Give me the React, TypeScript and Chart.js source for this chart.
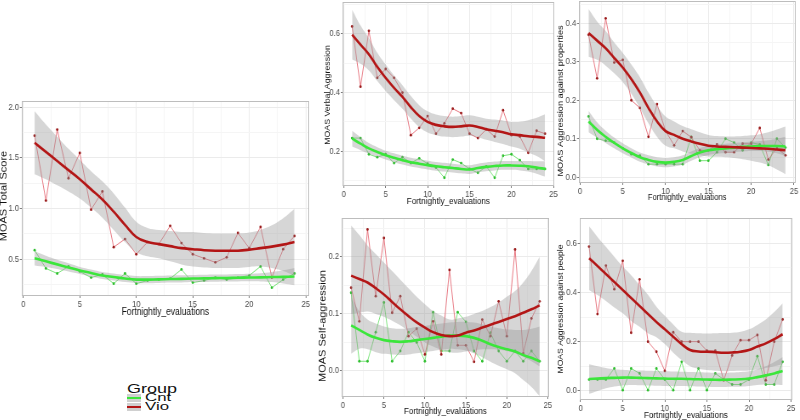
import React, { useEffect, useRef } from "react";
import { Chart, registerables } from "chart.js";

Chart.register(...registerables);

// ---------- shared axis data ----------
const evaluations = [1, 2, 3, 4, 5, 6, 7, 8, 9, 10, 11, 12, 13, 14, 15, 16, 17, 18, 19, 20, 21, 22, 23, 24];
const xTickValues = [0, 5, 10, 15, 20, 25];
const xTickLabels = ["0", "5", "10", "15", "20", "25"];
const xMinorValues = [2.5, 7.5, 12.5, 17.5, 22.5];
const groupNames = ["Cnt", "Vio"];

// ---------- MOAS Total Score ----------
const totalYTickValues = [0.5, 1.0, 1.5, 2.0];
const totalYTickLabels = ["0.5", "1.0", "1.5", "2.0"];
const totalYMinorValues = [0.25, 0.75, 1.25, 1.75];
const totalVio = [1.72, 1.08, 1.78, 1.3, 1.55, 0.99, 1.17, 0.62, 0.7, 0.55, 0.67, 0.65, 0.83, 0.66, 0.55, 0.51, 0.47, 0.52, 0.76, 0.61, 0.82, 0.32, 0.6, 0.73];
const totalCnt = [0.59, 0.41, 0.36, 0.43, 0.38, 0.32, 0.35, 0.26, 0.36, 0.26, 0.29, 0.3, 0.31, 0.4, 0.27, 0.29, 0.32, 0.3, 0.32, 0.34, 0.43, 0.22, 0.3, 0.36];
const totalVioFit = [1.65, 1.56, 1.47, 1.38, 1.29, 1.19, 1.09, 0.97, 0.84, 0.72, 0.67, 0.65, 0.63, 0.61, 0.6, 0.59, 0.585, 0.585, 0.585, 0.595, 0.61, 0.625, 0.645, 0.67];
const totalVioLo = [1.34, 1.29, 1.23, 1.17, 1.1, 1.01, 0.91, 0.79, 0.67, 0.57, 0.53, 0.51, 0.48, 0.45, 0.43, 0.42, 0.415, 0.415, 0.415, 0.425, 0.43, 0.415, 0.385, 0.34];
const totalVioHi = [1.96, 1.83, 1.71, 1.59, 1.48, 1.37, 1.27, 1.15, 1.01, 0.87, 0.81, 0.79, 0.78, 0.77, 0.77, 0.76, 0.755, 0.755, 0.755, 0.765, 0.79, 0.835, 0.905, 1.0];
const totalCntFit = [0.51, 0.48, 0.45, 0.42, 0.39, 0.365, 0.34, 0.325, 0.31, 0.3, 0.3, 0.302, 0.305, 0.307, 0.31, 0.312, 0.314, 0.316, 0.318, 0.32, 0.322, 0.325, 0.327, 0.33];
const totalCntLo = [0.44, 0.425, 0.405, 0.38, 0.355, 0.33, 0.305, 0.29, 0.275, 0.265, 0.265, 0.267, 0.27, 0.272, 0.275, 0.277, 0.279, 0.281, 0.282, 0.283, 0.282, 0.275, 0.262, 0.245];
const totalCntHi = [0.58, 0.535, 0.495, 0.46, 0.425, 0.4, 0.375, 0.36, 0.345, 0.335, 0.335, 0.337, 0.34, 0.342, 0.345, 0.347, 0.349, 0.351, 0.354, 0.357, 0.362, 0.375, 0.392, 0.415];

// ---------- MOAS Verbal Aggression ----------
const verbalYTickValues = [0.2, 0.4, 0.6];
const verbalYTickLabels = ["0.2", "0.4", "0.6"];
const verbalYMinorValues = [0.1, 0.3, 0.5, 0.7];
const verbalVio = [0.625, 0.42, 0.61, 0.45, 0.48, 0.45, 0.4, 0.255, 0.28, 0.32, 0.26, 0.295, 0.345, 0.33, 0.26, 0.245, 0.275, 0.25, 0.34, 0.255, 0.25, 0.195, 0.27, 0.26];
const verbalCnt = [0.245, 0.245, 0.19, 0.18, 0.19, 0.16, 0.18, 0.16, 0.176, 0.158, 0.145, 0.11, 0.172, 0.16, 0.14, 0.127, 0.149, 0.11, 0.185, 0.19, 0.17, 0.14, 0.14, 0.14];
const verbalVioFit = [0.597, 0.563, 0.53, 0.487, 0.45, 0.416, 0.385, 0.35, 0.32, 0.3, 0.29, 0.285, 0.283, 0.285, 0.288, 0.283, 0.275, 0.27, 0.265, 0.258, 0.255, 0.251, 0.249, 0.246];
const verbalVioLo = [0.512, 0.498, 0.475, 0.439, 0.405, 0.374, 0.345, 0.312, 0.283, 0.264, 0.255, 0.25, 0.248, 0.25, 0.253, 0.248, 0.239, 0.232, 0.225, 0.216, 0.209, 0.196, 0.184, 0.166];
const verbalVioHi = [0.682, 0.628, 0.585, 0.535, 0.495, 0.458, 0.425, 0.388, 0.357, 0.336, 0.325, 0.32, 0.318, 0.32, 0.323, 0.318, 0.311, 0.308, 0.305, 0.3, 0.301, 0.306, 0.314, 0.326];
const verbalCntFit = [0.243, 0.226, 0.21, 0.198, 0.187, 0.178, 0.17, 0.163, 0.158, 0.153, 0.149, 0.146, 0.143, 0.14, 0.138, 0.143, 0.147, 0.15, 0.152, 0.152, 0.151, 0.149, 0.145, 0.14];
const verbalCntLo = [0.216, 0.204, 0.192, 0.182, 0.172, 0.163, 0.155, 0.148, 0.143, 0.138, 0.134, 0.131, 0.128, 0.125, 0.123, 0.128, 0.132, 0.135, 0.137, 0.137, 0.135, 0.131, 0.124, 0.114];
const verbalCntHi = [0.27, 0.248, 0.228, 0.214, 0.202, 0.193, 0.185, 0.178, 0.173, 0.168, 0.164, 0.161, 0.158, 0.155, 0.153, 0.158, 0.162, 0.165, 0.167, 0.167, 0.167, 0.167, 0.166, 0.166];

// ---------- MOAS Aggression against properties ----------
const propertyYTickValues = [0, 0.1, 0.2, 0.3, 0.4];
const propertyYTickLabels = ["0.0", "0.1", "0.2", "0.3", "0.4"];
const propertyYMinorValues = [0.05, 0.15, 0.25, 0.35, 0.45];
const propertyVio = [0.37, 0.257, 0.413, 0.298, 0.305, 0.2, 0.18, 0.105, 0.19, 0.12, 0.083, 0.12, 0.104, 0.07, 0.07, 0.085, 0.065, 0.065, 0.087, 0.087, 0.128, 0.046, 0.076, 0.057];
const propertyCnt = [0.158, 0.1, 0.095, 0.09, 0.075, 0.06, 0.056, 0.034, 0.034, 0.034, 0.034, 0.034, 0.105, 0.043, 0.043, 0.065, 0.1, 0.09, 0.07, 0.09, 0.085, 0.032, 0.1, 0.077];
const propertyVioFit = [0.375, 0.355, 0.335, 0.31, 0.285, 0.255, 0.22, 0.18, 0.145, 0.12, 0.11, 0.1, 0.093, 0.087, 0.082, 0.08, 0.079, 0.078, 0.077, 0.076, 0.075, 0.074, 0.072, 0.07];
const propertyVioLo = [0.313, 0.305, 0.29, 0.27, 0.247, 0.217, 0.18, 0.14, 0.105, 0.082, 0.075, 0.067, 0.061, 0.057, 0.054, 0.053, 0.052, 0.05, 0.047, 0.043, 0.038, 0.031, 0.02, 0.008];
const propertyVioHi = [0.437, 0.405, 0.38, 0.35, 0.323, 0.293, 0.26, 0.22, 0.185, 0.158, 0.145, 0.133, 0.125, 0.117, 0.11, 0.107, 0.106, 0.106, 0.107, 0.109, 0.112, 0.117, 0.124, 0.132];
const propertyCntFit = [0.145, 0.123, 0.105, 0.089, 0.075, 0.063, 0.052, 0.045, 0.04, 0.038, 0.04, 0.045, 0.055, 0.064, 0.07, 0.073, 0.075, 0.077, 0.079, 0.08, 0.081, 0.081, 0.081, 0.08];
const propertyCntLo = [0.117, 0.103, 0.089, 0.075, 0.062, 0.051, 0.04, 0.033, 0.028, 0.026, 0.028, 0.033, 0.043, 0.052, 0.058, 0.061, 0.063, 0.065, 0.067, 0.068, 0.068, 0.066, 0.062, 0.055];
const propertyCntHi = [0.173, 0.143, 0.121, 0.103, 0.088, 0.075, 0.064, 0.057, 0.052, 0.05, 0.052, 0.057, 0.067, 0.076, 0.082, 0.085, 0.087, 0.089, 0.091, 0.092, 0.094, 0.096, 0.1, 0.105];

// ---------- MOAS Self-aggression ----------
const selfYTickValues = [0, 0.1, 0.2];
const selfYTickLabels = ["0.0", "0.1", "0.2"];
const selfYMinorValues = [-0.05, 0.05, 0.15, 0.25];
const selfVio = [0.146, 0.087, 0.248, 0.131, 0.233, 0.102, 0.131, 0.061, 0.074, 0.029, 0.087, 0.029, 0.177, 0.045, 0.045, 0.016, 0.09, 0.061, 0.122, 0.061, 0.213, 0.031, 0.092, 0.122];
const selfCnt = [0.137, 0.017, 0.017, 0.068, 0.12, 0.017, 0.035, 0.068, 0.05, 0.017, 0.103, 0.035, 0.035, 0.103, 0.086, 0.035, 0.017, 0.067, 0.035, 0.017, 0.035, 0.017, 0.035, 0.017];
const selfVioFit = [0.167, 0.161, 0.155, 0.145, 0.134, 0.121, 0.108, 0.096, 0.085, 0.076, 0.068, 0.063, 0.061, 0.062, 0.067, 0.071, 0.076, 0.081, 0.086, 0.091, 0.096, 0.102, 0.108, 0.115];
const selfVioLo = [0.1, 0.102, 0.104, 0.1, 0.095, 0.088, 0.08, 0.07, 0.06, 0.05, 0.043, 0.037, 0.033, 0.032, 0.034, 0.036, 0.038, 0.038, 0.037, 0.035, 0.031, 0.025, 0.017, 0.008];
const selfVioHi = [0.255, 0.238, 0.22, 0.205, 0.19, 0.175, 0.16, 0.145, 0.13, 0.117, 0.105, 0.097, 0.09, 0.092, 0.095, 0.1, 0.105, 0.112, 0.12, 0.13, 0.14, 0.155, 0.175, 0.2];
const selfCntFit = [0.08, 0.072, 0.064, 0.058, 0.054, 0.052, 0.051, 0.052, 0.054, 0.056, 0.058, 0.06, 0.062, 0.062, 0.061, 0.058, 0.053, 0.047, 0.042, 0.038, 0.034, 0.028, 0.023, 0.017];
const selfCntLo = [0.03, 0.039, 0.038, 0.033, 0.03, 0.029, 0.028, 0.029, 0.031, 0.033, 0.035, 0.037, 0.039, 0.038, 0.036, 0.031, 0.024, 0.016, 0.009, 0.003, -0.004, -0.016, -0.028, -0.044];
const selfCntHi = [0.13, 0.105, 0.09, 0.083, 0.078, 0.075, 0.074, 0.075, 0.077, 0.079, 0.081, 0.083, 0.085, 0.086, 0.086, 0.085, 0.082, 0.078, 0.075, 0.073, 0.072, 0.072, 0.074, 0.078];

// ---------- MOAS Aggression against people ----------
const peopleYTickValues = [0, 0.2, 0.4, 0.6];
const peopleYTickLabels = ["0.0", "0.2", "0.4", "0.6"];
const peopleYMinorValues = [0.1, 0.3, 0.5, 0.7];
const peopleVio = [0.586, 0.312, 0.509, 0.413, 0.528, 0.236, 0.453, 0.2, 0.159, 0.081, 0.238, 0.2, 0.2, 0.2, 0.163, 0.163, 0.043, 0.144, 0.206, 0.206, 0.227, 0.043, 0.2, 0.29];
const peopleCnt = [0.046, 0.046, 0.046, 0.091, 0.003, 0.091, 0.071, 0.003, 0.091, 0.046, 0.003, 0.118, 0.003, 0.091, 0.003, 0.071, 0.046, 0.026, 0.026, 0.046, 0.141, 0.026, 0.026, 0.118];
const peopleVioFit = [0.539, 0.507, 0.475, 0.442, 0.41, 0.377, 0.345, 0.312, 0.28, 0.25, 0.22, 0.19, 0.166, 0.16, 0.159, 0.157, 0.155, 0.156, 0.159, 0.166, 0.18, 0.193, 0.21, 0.23];
const peopleVioLo = [0.41, 0.389, 0.365, 0.339, 0.315, 0.284, 0.26, 0.234, 0.218, 0.19, 0.155, 0.125, 0.1, 0.09, 0.085, 0.082, 0.08, 0.081, 0.082, 0.083, 0.087, 0.093, 0.1, 0.108];
const peopleVioHi = [0.668, 0.625, 0.585, 0.545, 0.505, 0.47, 0.43, 0.39, 0.342, 0.305, 0.27, 0.24, 0.236, 0.234, 0.233, 0.234, 0.235, 0.236, 0.24, 0.25, 0.268, 0.29, 0.32, 0.356];
const peopleCntFit = [0.048, 0.05, 0.052, 0.053, 0.054, 0.054, 0.053, 0.052, 0.051, 0.05, 0.049, 0.049, 0.048, 0.047, 0.046, 0.045, 0.045, 0.046, 0.047, 0.05, 0.056, 0.063, 0.071, 0.081];
const peopleCntLo = [-0.012, 0.0, 0.011, 0.018, 0.022, 0.024, 0.023, 0.022, 0.021, 0.02, 0.019, 0.02, 0.019, 0.018, 0.017, 0.016, 0.016, 0.017, 0.017, 0.02, 0.024, 0.026, 0.025, 0.024];
const peopleCntHi = [0.108, 0.1, 0.093, 0.088, 0.086, 0.084, 0.083, 0.082, 0.081, 0.08, 0.079, 0.078, 0.077, 0.076, 0.075, 0.074, 0.074, 0.075, 0.077, 0.08, 0.088, 0.1, 0.117, 0.138];

// ---------- styles ----------
const FONT = "'Liberation Sans', Arial, Helvetica, sans-serif";
const RED_FIT = "#b31616";
const GREEN_FIT = "#3be63b";
const RED_RAW = "rgba(226, 92, 104, 0.9)";
const GREEN_RAW = "rgba(92, 222, 92, 0.9)";
const RED_PT = "#9a1a1a";
const GREEN_PT = "#2fbf2f";
const RIBBON = "rgba(153,153,153,0.4)";
const GRID_MAJOR = "#ebebeb";
const GRID_MINOR = "#f5f5f5";
const TICK_COLOR = "#4d4d4d";
const SQUEEZE = 0.85; // horizontal compression of each panel image

type Panel = {
  yTitle: string;
  yTickValues: number[];
  yTickLabels: string[];
  yMinorValues: number[];
  vio: number[];
  cnt: number[];
  vioFit: number[];
  vioLo: number[];
  vioHi: number[];
  cntFit: number[];
  cntLo: number[];
  cntHi: number[];
  xMin: number;
  xMax: number;
  yMin: number;
  yMax: number;
  area: { l: number; t: number; r: number; b: number };
  yTitleX: number;
  yTitleY: number;
  xTitleY: number;
  yTitleSize: number;
  xTitleSize: number;
  tickSize: number;
};

const panels: Panel[] = [
  {
    yTitle: "MOAS Total Score",
    yTickValues: totalYTickValues, yTickLabels: totalYTickLabels, yMinorValues: totalYMinorValues,
    vio: totalVio, cnt: totalCnt,
    vioFit: totalVioFit, vioLo: totalVioLo, vioHi: totalVioHi,
    cntFit: totalCntFit, cntLo: totalCntLo, cntHi: totalCntHi,
    xMin: -0.15, xMax: 25.3, yMin: 0.138, yMax: 2.062,
    area: { l: 22, t: 101, r: 310, b: 296 },
    yTitleX: 4, yTitleY: 196, xTitleY: 312, yTitleSize: 11, xTitleSize: 10, tickSize: 9,
  },
  {
    yTitle: "MOAS Verbal Aggression",
    yTickValues: verbalYTickValues, yTickLabels: verbalYTickLabels, yMinorValues: verbalYMinorValues,
    vio: verbalVio, cnt: verbalCnt,
    vioFit: verbalVioFit, vioLo: verbalVioLo, vioHi: verbalVioHi,
    cntFit: verbalCntFit, cntLo: verbalCntLo, cntHi: verbalCntHi,
    xMin: -0.15, xMax: 25.1, yMin: 0.082, yMax: 0.708,
    area: { l: 342, t: 2, r: 554, b: 186 },
    yTitleX: 327, yTitleY: 95, xTitleY: 201, yTitleSize: 8.8, xTitleSize: 9.5, tickSize: 9,
  },
  {
    yTitle: "MOAS Aggression against properties",
    yTickValues: propertyYTickValues, yTickLabels: propertyYTickLabels, yMinorValues: propertyYMinorValues,
    vio: propertyVio, cnt: propertyCnt,
    vioFit: propertyVioFit, vioLo: propertyVioLo, vioHi: propertyVioHi,
    cntFit: propertyCntFit, cntLo: propertyCntLo, cntHi: propertyCntHi,
    xMin: -0.15, xMax: 25.2, yMin: -0.015, yMax: 0.458,
    area: { l: 579, t: 1, r: 796, b: 183 },
    yTitleX: 561, yTitleY: 101, xTitleY: 198, yTitleSize: 9.2, xTitleSize: 9, tickSize: 9,
  },
  {
    yTitle: "MOAS Self-aggression",
    yTickValues: selfYTickValues, yTickLabels: selfYTickLabels, yMinorValues: selfYMinorValues,
    vio: selfVio, cnt: selfCnt,
    vioFit: selfVioFit, vioLo: selfVioLo, vioHi: selfVioHi,
    cntFit: selfCntFit, cntLo: selfCntLo, cntHi: selfCntHi,
    xMin: -0.16, xMax: 25.15, yMin: -0.0456, yMax: 0.268,
    area: { l: 342, t: 218, r: 550, b: 397 },
    yTitleX: 323, yTitleY: 326, xTitleY: 411, yTitleSize: 11, xTitleSize: 9.5, tickSize: 9,
  },
  {
    yTitle: "MOAS Aggression against people",
    yTickValues: peopleYTickValues, yTickLabels: peopleYTickLabels, yMinorValues: peopleYMinorValues,
    vio: peopleVio, cnt: peopleCnt,
    vioFit: peopleVioFit, vioLo: peopleVioLo, vioHi: peopleVioHi,
    cntFit: peopleCntFit, cntLo: peopleCntLo, cntHi: peopleCntHi,
    xMin: -0.15, xMax: 25.15, yMin: -0.037, yMax: 0.702,
    area: { l: 579, t: 218, r: 792, b: 400 },
    yTitleX: 560, yTitleY: 309, xTitleY: 415, yTitleSize: 8.6, xTitleSize: 9.6, tickSize: 9,
  },
];

const near = (list: number[], v: number) => list.findIndex((m) => Math.abs(m - v) < 1e-9);
const toPoints = (ys: number[]) => ys.map((y, i) => ({ x: evaluations[i], y }));

const panelBorder = {
  id: "panelBorder",
  afterDatasetsDraw(chart: any) {
    const { ctx, chartArea: a } = chart;
    ctx.save();
    ctx.strokeStyle = "#bdbdbd";
    ctx.lineWidth = 1;
    ctx.strokeRect(Math.round(a.left) + 0.5, Math.round(a.top) + 0.5, Math.round(a.right - a.left) - 1, Math.round(a.bottom - a.top) - 1);
    ctx.restore();
  },
};

// vertical axis title drawn at a given position (text, not an image)
const yTitlePlugin = {
  id: "yTitleText",
  afterDraw(chart: any, _args: any, opts: any) {
    if (!opts || !opts.text) return;
    const { ctx } = chart;
    ctx.save();
    ctx.translate(opts.x, opts.y);
    ctx.rotate(-Math.PI / 2);
    ctx.textAlign = "center";
    ctx.textBaseline = "middle";
    ctx.fillStyle = "#111";
    ctx.font = `${opts.size}px ${FONT}`;
    ctx.fillText(opts.text, 0, 0);
    ctx.restore();
  },
};

// page geometry -> canvas geometry (canvas is drawn wider and squeezed horizontally)
function geometry(p: Panel) {
  const k = SQUEEZE;
  const lhY = p.yTitleSize * 1.2;
  const lhX = p.xTitleSize * 1.2;
  const left = p.yTitleX - (k * lhY) / 2;
  const top = p.area.t - 4;
  const pageW = p.area.r + 3 - left;
  const Wc = Math.round(pageW / k);
  const H = Math.round(p.xTitleY + lhX / 2 - top);
  const areaLeftC = (p.area.l - left) / k;
  const areaRightC = (p.area.r - left) / k;
  return { k, left, top, Wc, H, areaLeftC, areaRightC };
}

function PanelChart({ p }: { p: Panel }) {
  const ref = useRef<HTMLCanvasElement | null>(null);
  const g = geometry(p);

  useEffect(() => {
    if (!ref.current) return;
    const yAxisW = g.areaLeftC;
    const xAxisH = g.top + g.H - p.area.b;
    const padTop = p.area.t - g.top;
    const padRight = g.Wc - g.areaRightC;
    const ribbonBase = { borderColor: "rgba(0,0,0,0)", borderWidth: 0, pointRadius: 0, tension: 0.4 };
    const xAll = [...xTickValues, ...xMinorValues].filter((v) => v >= p.xMin && v <= p.xMax).sort((a, b) => a - b);
    const yAll = [...p.yTickValues, ...p.yMinorValues].filter((v) => v >= p.yMin && v <= p.yMax).sort((a, b) => a - b);

    const chart = new Chart(ref.current, {
      type: "line",
      data: {
        datasets: [
          { label: groupNames[1] + " fit", data: toPoints(p.vioFit), borderColor: RED_FIT, borderWidth: 2.6, pointRadius: 0, tension: 0.4, fill: false },
          { label: groupNames[0] + " fit", data: toPoints(p.cntFit), borderColor: GREEN_FIT, borderWidth: 2.6, pointRadius: 0, tension: 0.4, fill: false },
          { label: "vio hi", data: toPoints(p.vioHi), ...ribbonBase, fill: 3, backgroundColor: RIBBON },
          { label: "vio lo", data: toPoints(p.vioLo), ...ribbonBase, fill: false },
          { label: "cnt hi", data: toPoints(p.cntHi), ...ribbonBase, fill: 5, backgroundColor: RIBBON },
          { label: "cnt lo", data: toPoints(p.cntLo), ...ribbonBase, fill: false },
          { label: groupNames[1], data: toPoints(p.vio), borderColor: RED_RAW, borderWidth: 0.9, pointRadius: 1.4, pointBorderWidth: 0, pointBackgroundColor: RED_PT, tension: 0, fill: false },
          { label: groupNames[0], data: toPoints(p.cnt), borderColor: GREEN_RAW, borderWidth: 0.9, pointRadius: 1.4, pointBorderWidth: 0, pointBackgroundColor: GREEN_PT, tension: 0, fill: false },
        ] as any,
      },
      options: {
        responsive: false,
        maintainAspectRatio: false,
        animation: false,
        devicePixelRatio: 1,
        events: [],
        layout: { padding: { left: 0, top: padTop, right: padRight, bottom: 0 } },
        plugins: {
          legend: { display: false },
          tooltip: { enabled: false },
          yTitleText: { text: p.yTitle, size: p.yTitleSize, x: (p.yTitleX - g.left) / g.k, y: p.yTitleY - g.top },
        },
        scales: {
          x: {
            type: "linear",
            min: p.xMin,
            max: p.xMax,
            bounds: "data",
            afterBuildTicks: (s: any) => {
              s.ticks = xAll.map((v) => ({ value: v }));
            },
            afterFit: (s: any) => {
              s.height = xAxisH;
              s.paddingLeft = 0;
              s.paddingRight = 0;
            },
            ticks: {
              autoSkip: false,
              maxRotation: 0,
              minRotation: 0,
              padding: 1,
              color: TICK_COLOR,
              font: { family: FONT, size: p.tickSize },
              callback: (v: any) => {
                const i = near(xTickValues, Number(v));
                return i >= 0 ? xTickLabels[i] : "";
              },
            },
            grid: {
              color: (c: any) => (c.tick && near(xTickValues, c.tick.value) >= 0 ? GRID_MAJOR : GRID_MINOR),
              tickColor: (c: any) => (c.tick && near(xTickValues, c.tick.value) >= 0 ? "#7a7a7a" : "rgba(0,0,0,0)"),
              tickLength: 2,
              lineWidth: 1,
            },
            border: { display: false },
            title: { display: true, text: "Fortnightly_evaluations", color: "#111", font: { family: FONT, size: p.xTitleSize }, padding: 0 },
          },
          y: {
            type: "linear",
            min: p.yMin,
            max: p.yMax,
            bounds: "data",
            afterBuildTicks: (s: any) => {
              s.ticks = yAll.map((v) => ({ value: v }));
            },
            afterFit: (s: any) => {
              s.width = yAxisW;
              s.paddingTop = 0;
              s.paddingBottom = 0;
            },
            ticks: {
              autoSkip: false,
              padding: 1,
              color: TICK_COLOR,
              font: { family: FONT, size: p.tickSize },
              callback: (v: any) => {
                const i = near(p.yTickValues, Number(v));
                return i >= 0 ? p.yTickLabels[i] : "";
              },
            },
            grid: {
              color: (c: any) => (c.tick && near(p.yTickValues, c.tick.value) >= 0 ? GRID_MAJOR : GRID_MINOR),
              tickColor: (c: any) => (c.tick && near(p.yTickValues, c.tick.value) >= 0 ? "#7a7a7a" : "rgba(0,0,0,0)"),
              tickLength: 2,
              lineWidth: 1,
            },
            border: { display: false },
            title: { display: false },
          },
        },
      } as any,
      plugins: [panelBorder, yTitlePlugin],
    });
    return () => chart.destroy();
  }, []);

  return (
    <canvas
      ref={ref}
      width={g.Wc}
      height={g.H}
      style={{
        position: "absolute",
        left: g.left,
        top: g.top,
        width: g.Wc,
        height: g.H,
        display: "block",
        transform: `scaleX(${g.k})`,
        transformOrigin: "left top",
      }}
    />
  );
}

function Legend() {
  const keyBox = (color: string, top: number) => (
    <div style={{ position: "absolute", left: 127, top, width: 14, height: 8, background: "#d0d0d0" }}>
      <div style={{ position: "absolute", left: 0, top: 3, width: 14, height: 2, background: color }} />
    </div>
  );
  const txt = (s: string, left: number, top: number, size: number, sx: number) => (
    <div
      style={{
        position: "absolute", left, top, fontFamily: FONT, fontSize: size, lineHeight: `${size}px`,
        color: "#111", whiteSpace: "nowrap", transform: `scaleX(${sx})`, transformOrigin: "left top",
      }}
    >
      {s}
    </div>
  );
  return (
    <>
      {txt("Group", 127, 383, 12, 1.5)}
      {keyBox(GREEN_FIT, 394)}
      {txt(groupNames[0], 145, 392, 10.5, 1.6)}
      {keyBox(RED_FIT, 403)}
      {txt(groupNames[1], 145, 401, 10.5, 1.6)}
    </>
  );
}

export default function App() {
  return (
    <div style={{ position: "fixed", left: 0, top: 0, width: 800, height: 420, background: "#fff", overflow: "hidden" }}>
      {panels.map((p, i) => (
        <PanelChart key={i} p={p} />
      ))}
      <Legend />
    </div>
  );
}
